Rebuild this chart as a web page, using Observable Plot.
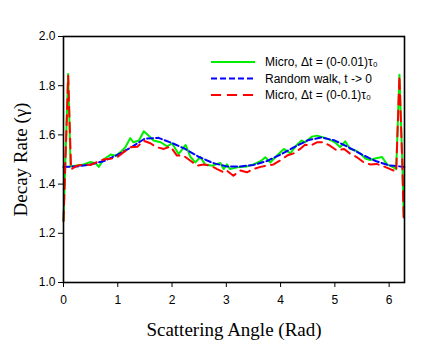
<!DOCTYPE html>
<html>
<head>
<meta charset="utf-8">
<script src="https://cdn.jsdelivr.net/npm/d3@7"></script>
<script src="https://cdn.jsdelivr.net/npm/@observablehq/plot@0.6"></script>
<style>
  body { margin: 0; background: #fff; }
  g[aria-label="x-axis label"] text, g[aria-label="y-axis label"] text {
    font-family: "Liberation Serif", "DejaVu Serif", serif; font-size: 19px; fill: #000;
  }
</style>
</head>
<body>
<div id="chart"></div>
<script>
// Micro, Δt = (0-0.01)τ0
const greenX = [0,0.086,0.13,0.37,0.50,0.59,0.65,0.74,0.87,0.96,1.05,1.14,1.23,1.29,1.39,1.48,1.57,1.66,1.79,1.91,2.00,2.12,2.25,2.34,2.43,2.52,2.61,2.74,2.89,2.95,3.01,3.07,3.20,3.38,3.50,3.63,3.72,3.81,3.93,4.06,4.18,4.30,4.39,4.45,4.58,4.67,4.79,4.91,5.00,5.10,5.19,5.28,5.37,5.47,5.56,5.65,5.74,5.87,5.96,6.08,6.13,6.19,6.24,6.27];
const greenY = [1.25,1.848,1.472,1.48,1.49,1.485,1.47,1.50,1.52,1.515,1.53,1.55,1.587,1.57,1.577,1.615,1.597,1.577,1.57,1.553,1.566,1.522,1.559,1.51,1.488,1.51,1.48,1.475,1.486,1.461,1.48,1.461,1.468,1.472,1.48,1.493,1.509,1.488,1.515,1.543,1.525,1.56,1.577,1.57,1.593,1.597,1.59,1.58,1.57,1.55,1.574,1.543,1.538,1.524,1.504,1.498,1.504,1.51,1.48,1.468,1.461,1.845,1.51,1.264];
// Random walk, t -> 0
const blueX = [0,0.25,0.5,0.75,1.0,1.25,1.5,1.75,2.0,2.25,2.5,2.75,3.0,3.25,3.5,3.75,4.0,4.25,4.5,4.75,5.0,5.25,5.5,5.75,6.0,6.28];
const blueY = [1.47,1.472,1.48,1.494,1.52,1.55,1.585,1.588,1.567,1.542,1.51,1.486,1.472,1.471,1.478,1.494,1.52,1.55,1.578,1.59,1.577,1.55,1.52,1.494,1.476,1.47];
// Micro, Δt = (0-0.1)τ0
const redX = [0,0.086,0.14,0.25,0.37,0.50,0.62,0.74,0.87,0.99,1.11,1.23,1.36,1.48,1.60,1.72,1.85,1.97,2.09,2.21,2.34,2.46,2.58,2.71,2.83,2.95,3.01,3.13,3.26,3.38,3.50,3.63,3.75,3.87,4.00,4.12,4.24,4.36,4.45,4.55,4.67,4.79,4.91,5.04,5.17,5.28,5.40,5.53,5.65,5.77,5.90,6.02,6.13,6.19,6.24,6.27];
const redY = [1.25,1.84,1.46,1.475,1.479,1.478,1.49,1.50,1.503,1.51,1.53,1.55,1.552,1.576,1.566,1.55,1.543,1.553,1.516,1.516,1.495,1.475,1.48,1.475,1.461,1.448,1.455,1.434,1.455,1.448,1.461,1.47,1.475,1.48,1.497,1.516,1.525,1.543,1.56,1.556,1.57,1.57,1.556,1.536,1.543,1.524,1.51,1.489,1.48,1.482,1.472,1.461,1.451,1.84,1.50,1.245];

const xTicks = [0,1,2,3,4,5,6];
const yTicks = [1.0,1.2,1.4,1.6,1.8,2.0];
const seriesNames = ["Micro, Δt = (0-0.01)τ₀", "Random walk, t -> 0", "Micro, Δt = (0-0.1)τ₀"];
const seriesColors = ["#00ee00", "#0000ff", "#ff0000"];
const seriesDash = [null, "6,3", "10,6"];

const toRows = (xs, ys) => xs.map((x, i) => ({x, y: ys[i]}));
const green = toRows(greenX, greenY);
const blue = toRows(blueX, blueY);
const red = toRows(redX, redY);

const plot = Plot.plot({
  width: 448,
  height: 350,
  marginLeft: 63,
  marginRight: 44,
  marginTop: 36,
  marginBottom: 68,
  style: {fontFamily: "'Liberation Sans', Arial, sans-serif", fontSize: "11px", background: "#fff", color: "#000"},
  x: {domain: [0, 2 * Math.PI]},
  y: {domain: [1, 2]},
  marks: [
    Plot.line(green, {x: "x", y: "y", stroke: seriesColors[0], strokeWidth: 2}),
    Plot.line(blue, {x: "x", y: "y", stroke: seriesColors[1], strokeWidth: 2, strokeDasharray: seriesDash[1]}),
    Plot.line(red, {x: "x", y: "y", stroke: seriesColors[2], strokeWidth: 2, strokeDasharray: seriesDash[2]}),
    Plot.frame({stroke: "#000", strokeWidth: 1.6}),
    Plot.axisX({ticks: xTicks, tickSize: 5, tickPadding: 8, tickFormat: d3.format("d"),
      label: "Scattering Angle (Rad)", labelAnchor: "center", labelArrow: "none", labelOffset: 53, fontSize: 12}),
    Plot.axisY({ticks: yTicks, tickSize: 5, tickPadding: 3, tickFormat: d3.format(".1f"),
      label: "Decay Rate (γ)", labelAnchor: "center", labelArrow: "none", labelOffset: 50, fontSize: 12})
  ]
});
document.getElementById("chart").appendChild(plot);

// legend inside the plot
const svg = d3.select(plot);
const lg = svg.append("g").attr("aria-label", "legend").attr("text-anchor", "start");
seriesNames.forEach((name, i) => {
  const y = 62 + i * 16.5;
  lg.append("line").attr("x1", 211).attr("x2", 255).attr("y1", y).attr("y2", y)
    .attr("stroke", seriesColors[i]).attr("stroke-width", 2)
    .attr("stroke-dasharray", seriesDash[i]);
  lg.append("text").attr("x", 265).attr("y", y).attr("dy", "0.35em")
    .attr("font-size", 12).attr("fill", "#000").text(name);
});
</script>
</body>
</html>
